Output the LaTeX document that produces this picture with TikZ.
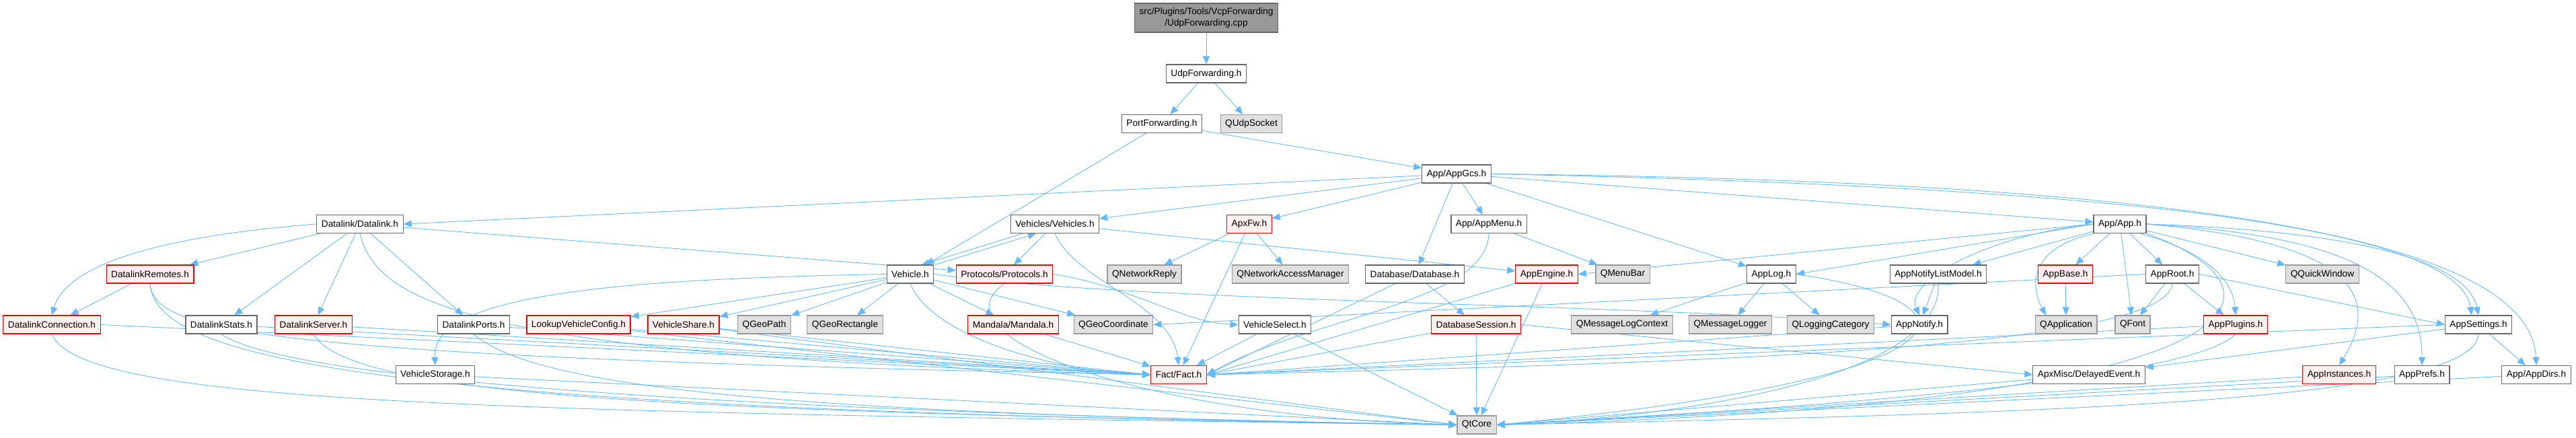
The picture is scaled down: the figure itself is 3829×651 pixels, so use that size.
\documentclass[tikz,border=0pt]{standalone}
\usepackage{fontspec}
\setmainfont{Liberation Sans}
\usepackage{xcolor}
\usepackage{tikz}
\usetikzlibrary{positioning,arrows.meta}

\definecolor{edgeblue}{HTML}{63B8FF}
\definecolor{boxline}{HTML}{666666}
\definecolor{rfill}{HTML}{FFF0F0}
\definecolor{qfill}{HTML}{E0E0E0}
\definecolor{qline}{HTML}{999999}
\definecolor{rootfill}{HTML}{999999}
\pgfdeclarelayer{edges}
\pgfsetlayers{edges,main}

\begin{document}
\begin{tikzpicture}[x=0.02cm, y=-0.02cm,
  box/.style={draw=boxline, fill=white, line width=0.7pt,
              font=\fontsize{7.8}{9.2}\selectfont,
              minimum height=0.54cm, inner xsep=0.14cm, inner ysep=0pt},
  redbox/.style={box, draw=red, fill=rfill},
  qtbox/.style={box, draw=qline, fill=qfill},
  rootbox/.style={box, fill=rootfill, align=center, minimum height=0.86cm},
  dep/.style={->, draw=edgeblue, line width=0.5pt},
  >={Triangle[length=2.4mm,width=2mm]}]
\useasboundingbox (0,0) rectangle (3829,651);

% top of the graph
\node[rootbox] (root) at (1793,26.5) {src/Plugins/Tools/VcpForwarding\\/UdpForwarding.cpp};
\node[box] (udp) at (1793,109.5) {UdpForwarding.h};
\node[box] (portfwd) at (1727,184) {PortForwarding.h};
\node[qtbox] (qudp) at (1860,184) {QUdpSocket};
\node[box] (appgcs) at (2165,258.5) {App/AppGcs.h};

% row 4
\node[box] (datalink) at (535,333) {Datalink/Datalink.h};
\node[box] (vehicles) at (1568,333) {Vehicles/Vehicles.h};
\node[redbox] (apxfw) at (1857,333) {ApxFw.h};
\node[box] (appmenu) at (2213,333) {App/AppMenu.h};
\node[box] (app) at (3151,333) {App/App.h};

% row 5
\node[redbox] (dlremotes) at (223,407.5) {DatalinkRemotes.h};
\node[box] (vehicle) at (1353,407.5) {Vehicle.h};
\node[redbox] (protocols) at (1493,407.5) {Protocols/Protocols.h};
\node[qtbox] (qnetreply) at (1701,407.5) {QNetworkReply};
\node[qtbox] (qnam) at (1918,407.5) {QNetworkAccessManager};
\node[box] (database) at (2103,407.5) {Database/Database.h};
\node[redbox] (appengine) at (2299,407.5) {AppEngine.h};
\node[qtbox] (qmenubar) at (2412,407.5) {QMenuBar};
\node[box] (applog) at (2633,407.5) {AppLog.h};
\node[box] (appnotifylm) at (2881,407.5) {AppNotifyListModel.h};
\node[redbox] (appbase) at (3070,407.5) {AppBase.h};
\node[box] (approot) at (3229,407.5) {AppRoot.h};
\node[qtbox] (qquick) at (3452,407.5) {QQuickWindow};

% row 6
\node[redbox] (dlconn) at (77,482.5) {DatalinkConnection.h};
\node[box] (dlstats) at (329,482.5) {DatalinkStats.h};
\node[redbox] (dlserver) at (466,482.5) {DatalinkServer.h};
\node[box] (dlports) at (704,482.5) {DatalinkPorts.h};
\node[redbox] (lookup) at (860,482.5) {LookupVehicleConfig.h};
\node[redbox] (vshare) at (1016,482.5) {VehicleShare.h};
\node[qtbox] (qgeopath) at (1136,482.5) {QGeoPath};
\node[qtbox] (qgeorect) at (1256,482.5) {QGeoRectangle};
\node[redbox] (mandala) at (1506,482.5) {Mandala/Mandala.h};
\node[qtbox] (qgeocoord) at (1655,482.5) {QGeoCoordinate};
\node[box] (vselect) at (1895,482.5) {VehicleSelect.h};
\node[redbox] (dbsession) at (2194,482.5) {DatabaseSession.h};
\node[qtbox] (qmlc) at (2411,482.5) {QMessageLogContext};
\node[qtbox] (qmlogger) at (2572,482.5) {QMessageLogger};
\node[qtbox] (qlogcat) at (2721,482.5) {QLoggingCategory};
\node[box] (appnotify) at (2853,482.5) {AppNotify.h};
\node[qtbox] (qapp) at (3071,482.5) {QApplication};
\node[qtbox] (qfont) at (3170,482.5) {QFont};
\node[redbox] (appplugins) at (3323,482.5) {AppPlugins.h};
\node[box] (appsettings) at (3684,482.5) {AppSettings.h};

% row 7 and 8
\node[box] (vstorage) at (647,557) {VehicleStorage.h};
\node[redbox] (fact) at (1752,557) {Fact/Fact.h};
\node[box] (delayed) at (3105,557) {ApxMisc/DelayedEvent.h};
\node[redbox] (appinst) at (3477,557) {AppInstances.h};
\node[box] (appprefs) at (3600,557) {AppPrefs.h};
\node[box] (appdirs) at (3770,557) {App/AppDirs.h};
\node[qtbox] (qtcore) at (2195,631.5) {QtCore};

\begin{pgfonlayer}{edges}
\draw[dep] (root) -- (udp);
\draw[dep] (udp) -- (portfwd);
\draw[dep] (udp) -- (qudp);
\draw[dep] (portfwd) -- (vehicle);
\draw[dep] (portfwd) -- (appgcs);
% App/AppGcs.h
\draw[dep] (appgcs) -- (datalink.east);
\draw[dep] (appgcs) -- (vehicles);
\draw[dep] (appgcs) -- (apxfw);
\draw[dep] (appgcs) -- (appmenu);
\draw[dep] (appgcs) -- (database);
\draw[dep] (appgcs) -- (applog);
\draw[dep] (appgcs) -- (app);
\draw[dep] (appgcs.east) .. controls (3000,275) and (3650,320) .. ([xshift=-0.2cm]appsettings.north);
\draw[dep] (appgcs.east) .. controls (3100,268) and (3760,330) .. (appdirs.north);
% Datalink
\draw[dep] (datalink) -- (dlremotes);
\draw[dep] (datalink.west) .. controls (250,350) and (100,390) .. (dlconn.north);
\draw[dep] (datalink) -- (dlstats);
\draw[dep] (datalink) -- (dlserver);
\draw[dep] (datalink) -- (dlports);
\draw[dep] (datalink) -- (protocols);
\draw[dep] (datalink.south) .. controls (560,450) and (700,530) .. (fact.west);
\draw[dep] (dlremotes) -- (dlconn);
\draw[dep] (dlremotes.south) .. controls (230,490) and (350,530) .. (fact.west);
\draw[dep] (dlremotes.south) .. controls (230,540) and (600,610) .. (qtcore.west);
\draw[dep] (dlconn.east) -- (fact.west);
\draw[dep] (dlconn.south) .. controls (120,600) and (700,612) .. (qtcore.west);
\draw[dep] (dlstats) -- (fact.west);
\draw[dep] (dlstats.south) .. controls (420,560) and (1000,610) .. (qtcore.west);
\draw[dep] (dlserver) -- (fact.west);
\draw[dep] (dlserver.south) .. controls (520,590) and (1000,612) .. (qtcore.west);
\draw[dep] (dlports) -- (fact.west);
\draw[dep] (dlports.south) .. controls (800,580) and (1200,615) .. (qtcore.west);
% Vehicles and Vehicle
\draw[dep] ([xshift=-0.96cm]vehicles.south) -- ([xshift=0.34cm]vehicle.north);
\draw[dep] ([xshift=0.74cm]vehicle.north) -- ([xshift=-0.56cm]vehicles.south);
\draw[dep] (vehicles) -- (protocols);
\draw[dep] (vehicles.south) .. controls (1600,420) and (1740,450) .. (fact.north);
\draw[dep] (vehicles) -- (appengine);
\draw[dep] (vehicle) -- (lookup);
\draw[dep] (vehicle) -- (vshare);
\draw[dep] (vehicle) -- (qgeopath);
\draw[dep] (vehicle) -- (qgeorect);
\draw[dep] (vehicle) -- (mandala);
\draw[dep] (vehicle) -- (qgeocoord);
\draw[dep] (vehicle.west) .. controls (900,415) and (640,440) .. (vstorage.north);
\draw[dep] (vehicle.south) .. controls (1390,510) and (1600,555) .. (fact.west);
\draw[dep] (vehicle.east) .. controls (1700,450) and (2400,450) .. (appnotify.west);
\draw[dep] (protocols.south) .. controls (1380,500) and (1700,620) .. (qtcore.west);
\draw[dep] (protocols.east) .. controls (1680,425) and (1760,480) .. (vselect.west);
\draw[dep] (lookup) -- (fact.west);
\draw[dep] (lookup) -- (qtcore.west);
\draw[dep] (vshare) -- (fact.west);
\draw[dep] (vshare) -- (qtcore.west);
\draw[dep] (vstorage) -- (qtcore.west);
\draw[dep] (mandala) -- (fact);
\draw[dep] (vselect) -- (fact);
\draw[dep] (vselect) -- (qtcore);
% ApxFw, menu, database, engine, log
\draw[dep] (apxfw) -- (qnetreply);
\draw[dep] (apxfw) -- (qnam);
\draw[dep] (apxfw) -- (fact);
\draw[dep] (appmenu) -- (qmenubar);
\draw[dep] (appmenu.south) .. controls (2210,450) and (1950,470) .. (fact.east);
\draw[dep] (database) -- (dbsession);
\draw[dep] (database) -- (fact.east);
\draw[dep] (appengine) -- (qtcore);
\draw[dep] (appengine) -- (fact.east);
\draw[dep] (dbsession) -- (qtcore);
\draw[dep] (dbsession.east) -- (delayed.west);
\draw[dep] (dbsession) -- (fact.east);
\draw[dep] (applog) -- (qmlc);
\draw[dep] (applog) -- (qmlogger);
\draw[dep] (applog) -- (qlogcat);
\draw[dep] (applog.east) .. controls (2960,450) and (2960,560) .. (qtcore.east);
\draw[dep] (appnotify) -- (fact.east);
\draw[dep] (appnotifylm) -- (appnotify);
\draw[dep] (appnotifylm.south) .. controls (2890,560) and (2500,620) .. (qtcore.east);
% App/App.h
\draw[dep] (app) -- (appnotifylm);
\draw[dep] (app) -- (appbase);
\draw[dep] (app) -- (approot);
\draw[dep] (app) -- (qquick);
\draw[dep] (app) -- (qfont);
\draw[dep] (app.200) .. controls (3010,370) and (3020,430) .. ([xshift=-0.6cm]qapp.north);
\draw[dep] ([xshift=0.6cm]app.south) .. controls (3300,380) and (3320,430) .. (appplugins.north);
\draw[dep] (app.east) .. controls (3550,345) and (3670,400) .. (appsettings.north);
\draw[dep] (app.east) .. controls (3500,360) and (3540,440) .. (appinst.north);
\draw[dep] (app.east) .. controls (3500,350) and (3600,420) .. (appprefs.north);
\draw[dep] (app.west) -- (appengine.east);
\draw[dep] (app.west) -- (applog.east);
\draw[dep] (app.west) .. controls (2950,350) and (2830,420) .. (appnotify.north);
\draw[dep] (app.south east) .. controls (3420,430) and (3400,600) .. (qtcore.east);
\draw[dep] (appbase) -- (qapp);
\draw[dep] (approot) -- (qfont);
\draw[dep] (approot) -- (appplugins);
\draw[dep] (approot.east) -- (appsettings.west);
\draw[dep] (approot.west) -- (qgeocoord.east);
\draw[dep] (approot.south) .. controls (3220,520) and (2500,540) .. (fact.east);
\draw[dep] (appplugins) -- (fact.east);
\draw[dep] (appplugins.south) .. controls (3260,560) and (2800,600) .. (qtcore.east);
\draw[dep] (appsettings.west) -- (fact.east);
\draw[dep] (appsettings) -- (delayed);
\draw[dep] (appsettings) -- (appdirs);
\draw[dep] (appsettings.south) .. controls (3680,600) and (3000,615) .. (qtcore.east);
\draw[dep] (delayed) -- (qtcore.east);
\draw[dep] (appinst) -- (qtcore.east);
\draw[dep] (appprefs) -- (qtcore.east);
\draw[dep] (appdirs) -- (qtcore.east);
\end{pgfonlayer}
\end{tikzpicture}
\end{document}
